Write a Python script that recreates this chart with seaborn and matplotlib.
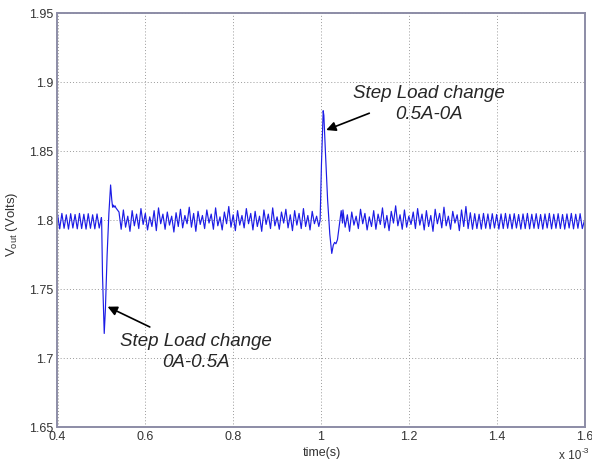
import numpy as np
import pandas as pd
import matplotlib
matplotlib.use("Agg")
import matplotlib.pyplot as plt
import seaborn as sns

# ---- measured output voltage (time in ms, Vout in volts) ----
# steady ripple before the first load step, sampled every 5 us
seg_a_start, seg_a_end = 0.400, 0.500
seg_a_v = [1.8045, 1.7938, 1.8050, 1.7942, 1.8040, 1.7936, 1.8048, 1.7944, 1.8042, 1.7938,
           1.8050, 1.7940, 1.8044, 1.7936, 1.8048, 1.7942, 1.8040, 1.7938, 1.8046, 1.7944,
           1.8020]

# load step 0A -> 0.5A
step1_t = [0.5005, 0.5025, 0.5064, 0.5090, 0.5130, 0.5170, 0.5209, 0.5235, 0.5255,
           0.5270, 0.5290, 0.5310, 0.5330]
step1_v = [1.8000, 1.7600, 1.7180, 1.7350, 1.7750, 1.8050, 1.8256, 1.8150, 1.8095,
           1.8110, 1.8095, 1.8105, 1.8090]

# loaded operation between the steps
seg_b_start, seg_b_end = 0.540, 0.995
seg_b_v = [1.8060, 1.7935, 1.8075, 1.7950, 1.8030, 1.7920, 1.8070, 1.7960, 1.8045, 1.7940,
           1.8085, 1.7970, 1.8050, 1.7930, 1.8025, 1.7955, 1.8070, 1.7925, 1.8090, 1.7975,
           1.8045, 1.7935, 1.8060, 1.7965, 1.8030, 1.7915, 1.8055, 1.7955, 1.8080, 1.7945,
           1.8035, 1.7975, 1.8095, 1.7950, 1.8050, 1.7920, 1.8065, 1.7970, 1.8035, 1.7940,
           1.8075, 1.7980, 1.8045, 1.7935, 1.8090, 1.7960, 1.8025, 1.7930, 1.8060, 1.7975,
           1.8100, 1.7950, 1.8040, 1.7925, 1.8070, 1.7965, 1.8035, 1.7945, 1.8085, 1.7975,
           1.8050, 1.7930, 1.8065, 1.7955, 1.8030, 1.7920, 1.8075, 1.7970, 1.8045, 1.7940,
           1.8090, 1.7960, 1.8025, 1.7935, 1.8060, 1.7980, 1.8080, 1.7945, 1.8040, 1.7925,
           1.8070, 1.7965, 1.8050, 1.7940, 1.8085, 1.7955, 1.8035, 1.7930, 1.8065, 1.7975,
           1.8030, 1.7955]

# load step 0.5A -> 0A
step2_t = [0.9980, 1.0010, 1.0050, 1.0065, 1.0100, 1.0150, 1.0200, 1.0245, 1.0280,
           1.0310, 1.0340, 1.0375, 1.0400, 1.0430, 1.0460, 1.0490]
step2_v = [1.8000, 1.8400, 1.8794, 1.8760, 1.8500, 1.8150, 1.7900, 1.7760, 1.7820,
           1.7840, 1.7830, 1.7860, 1.7920, 1.7990, 1.8070, 1.7980]

# recovery and unloaded ripple
seg_c_start, seg_c_end = 1.050, 1.600
seg_c_v = [1.8075, 1.7950, 1.8040, 1.7920, 1.8060, 1.7965, 1.8030, 1.7940, 1.8080, 1.7975,
           1.8050, 1.7930, 1.8025, 1.7955, 1.8070, 1.7935, 1.8045, 1.7970, 1.8090, 1.7945,
           1.8035, 1.7925, 1.8065, 1.7980, 1.8105, 1.7960, 1.8040, 1.7935, 1.8075, 1.7950,
           1.8030, 1.7970, 1.8060, 1.7940, 1.8085, 1.7965, 1.8045, 1.7930, 1.8070, 1.7955,
           1.8035, 1.7920, 1.8080, 1.7975, 1.8050, 1.7945, 1.8095, 1.7960, 1.8030, 1.7935,
           1.8065, 1.7980, 1.8040, 1.7925, 1.8075, 1.7955, 1.8100, 1.7940, 1.8055, 1.7935,
           1.8048, 1.7940, 1.8044, 1.7936, 1.8050, 1.7942, 1.8046, 1.7938, 1.8048, 1.7944,
           1.8042, 1.7936, 1.8046, 1.7940, 1.8050, 1.7942, 1.8044, 1.7938, 1.8048, 1.7944,
           1.8042, 1.7936, 1.8046, 1.7940, 1.8050, 1.7938, 1.8044, 1.7942, 1.8048, 1.7940,
           1.8042, 1.7936, 1.8046, 1.7944, 1.8050, 1.7938, 1.8044, 1.7942, 1.8048, 1.7940,
           1.8042, 1.7936, 1.8046, 1.7944, 1.8050, 1.7938, 1.8044, 1.7942, 1.8048, 1.7940,
           1.8000]

x_ticks = [0.4, 0.6, 0.8, 1.0, 1.2, 1.4, 1.6]
x_tick_labels = ["0.4", "0.6", "0.8", "1", "1.2", "1.4", "1.6"]
y_ticks = [1.65, 1.7, 1.75, 1.8, 1.85, 1.9, 1.95]
y_tick_labels = ["1.65", "1.7", "1.75", "1.8", "1.85", "1.9", "1.95"]

# ---- assemble the trace ----
t = np.concatenate([
    np.linspace(seg_a_start, seg_a_end, len(seg_a_v)), step1_t,
    np.linspace(seg_b_start, seg_b_end, len(seg_b_v)), step2_t,
    np.linspace(seg_c_start, seg_c_end, len(seg_c_v)),
])
v = np.concatenate([seg_a_v, step1_v, seg_b_v, step2_v, seg_c_v])
df = pd.DataFrame({"time_ms": t, "vout": v})

sns.set_style("white")
plt.rcParams["font.family"] = ["Liberation Sans", "DejaVu Sans"]
plt.rcParams["mathtext.fontset"] = "custom"
plt.rcParams["mathtext.rm"] = "Liberation Sans"

fig = plt.figure(figsize=(5.92, 4.66), dpi=100)
ax = fig.add_axes([57.5 / 592, (466 - 427.3) / 466, 527 / 592, 414 / 466])

sns.lineplot(data=df, x="time_ms", y="vout", estimator=None, sort=False,
             color="#1c1ce6", linewidth=0.85, ax=ax)

ax.set_xlim(0.4, 1.6)
ax.set_ylim(1.65, 1.95)
ax.set_xticks(x_ticks)
ax.set_xticklabels(x_tick_labels)
ax.set_yticks(y_ticks)
ax.set_yticklabels(y_tick_labels)

spine_col = "#8c8ca6"
for s in ax.spines.values():
    s.set_color(spine_col)
    s.set_linewidth(1.4)
ax.tick_params(direction="in", length=4, width=0.9, color="#555566",
               labelsize=9, labelcolor="#333333", top=False, right=False)
ax.tick_params(axis="x", pad=2.5)
ax.tick_params(axis="y", pad=3.2)
ax.grid(True, linestyle=(0, (1, 2.2)), color="#9a9a9a", linewidth=0.7)

ax.set_xlabel("time(s)", fontsize=9, color="#333333")
ax.set_ylabel(r"V$_{\mathrm{out}}$ (Volts)", fontsize=9.5, color="#333333")
ax.xaxis.set_label_coords(0.502, -0.048)
ax.yaxis.set_label_coords(-0.071, 0.491)

# axis multiplier "x 10^-3" below the right end of the time axis
fig.text(581 / 592, (466 - 459) / 466, "x 10", fontsize=8.5,
         color="#333333", va="baseline", ha="right")
fig.text(581.5 / 592, (466 - 453) / 466, "-3", fontsize=6,
         color="#333333", va="baseline", ha="left")

arrow = dict(arrowstyle="-|>", color="black", lw=1.2, mutation_scale=14,
             shrinkA=0, shrinkB=0)

# 0.5A -> 0A step
ax.text(1.2466, 1.8843, "Step Load change\n0.5A-0A", ha="center", va="center",
        multialignment="center", fontsize=13.5, style="italic", linespacing=1.33)
ax.annotate("", xy=(1.0118, 1.8654), xytext=(1.110, 1.8776), arrowprops=arrow)

# 0A -> 0.5A step
ax.text(0.7148, 1.7046, "Step Load change\n0A-0.5A", ha="center", va="center",
        multialignment="center", fontsize=13.5, style="italic", linespacing=1.33)
ax.annotate("", xy=(0.5141, 1.7374), xytext=(0.6102, 1.7227), arrowprops=arrow)

fig.savefig("out.png", dpi=100, facecolor="white")
